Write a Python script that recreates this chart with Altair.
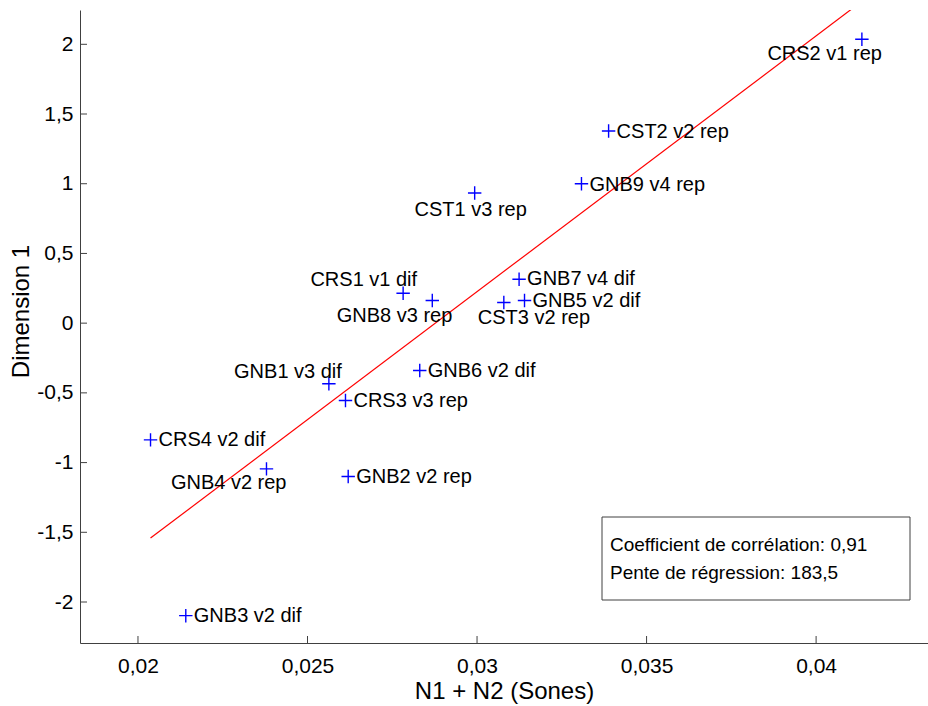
import altair as alt
import pandas as pd

# Stimuli: loudness (N1 + N2, sones) against perceptual dimension 1
names = [
    "CRS2 v1 rep", "CST2 v2 rep", "GNB9 v4 rep", "CST1 v3 rep", "GNB7 v4 dif",
    "CRS1 v1 dif", "GNB8 v3 rep", "CST3 v2 rep", "GNB5 v2 dif", "GNB6 v2 dif",
    "GNB1 v3 dif", "CRS3 v3 rep", "CRS4 v2 dif", "GNB4 v2 rep", "GNB2 v2 rep",
    "GNB3 v2 dif",
]
loudness = [
    0.04135, 0.03388, 0.03308, 0.02993, 0.03124,
    0.02782, 0.02868, 0.03079, 0.03140, 0.02831,
    0.02563, 0.02612, 0.02037, 0.02379, 0.02620,
    0.02141,
]
dimension1 = [
    2.036, 1.378, 1.000, 0.934, 0.315,
    0.215, 0.162, 0.148, 0.162, -0.340,
    -0.435, -0.555, -0.837, -1.045, -1.100,
    -2.098,
]

correlation = 0.91
slope = 183.5

x_ticks = [0.02, 0.025, 0.03, 0.035, 0.04]
y_ticks = [-2, -1.5, -1, -0.5, 0, 0.5, 1, 1.5, 2]

# label placement: (align, dx, dy) in pixels around each marker
label_style = {
    "CRS2 v1 rep": ("right", 20, 15),
    "CST2 v2 rep": ("left", 8, 1),
    "GNB9 v4 rep": ("left", 8, 1),
    "CST1 v3 rep": ("center", -4, 17),
    "GNB7 v4 dif": ("left", 8, 0),
    "CRS1 v1 dif": ("right", 14, -13),
    "GNB8 v3 rep": ("right", 20, 15),
    "CST3 v2 rep": ("left", -26, 15),
    "GNB5 v2 dif": ("left", 8, 0),
    "GNB6 v2 dif": ("left", 8, 0),
    "GNB1 v3 dif": ("right", 13, -12),
    "CRS3 v3 rep": ("left", 8, 0),
    "CRS4 v2 dif": ("left", 8, 0),
    "GNB4 v2 rep": ("right", 20, 14),
    "GNB2 v2 rep": ("left", 8, 0),
    "GNB3 v2 dif": ("left", 8, 0),
}

FONT = "Liberation Sans"
W, H = 848, 633
X_DOM = [0.01829, 0.0433]
Y_DOM = [-2.294, 2.246]
AXIS_GREY = "#404040"

df = pd.DataFrame({"name": names, "x": loudness, "y": dimension1})

# least-squares line passes through the centroid
mean_x = df["x"].mean()
mean_y = df["y"].mean()
intercept = mean_y - slope * mean_x
x_lo, x_hi = df["x"].min(), df["x"].max()
fit = pd.DataFrame({"x": [x_lo, x_hi], "y": [intercept + slope * x_lo, intercept + slope * x_hi]})

comma = "replace(toString(datum.value), '.', ',')"

xscale = alt.Scale(domain=X_DOM, nice=False, zero=False)
yscale = alt.Scale(domain=Y_DOM, nice=False, zero=False)

x_axis = alt.X(
    "x:Q", scale=xscale,
    axis=alt.Axis(
        title="N1 + N2 (Sones)", values=x_ticks, labelExpr=comma, grid=False,
        tickSize=0, labelPadding=12, labelFontSize=21, labelFont=FONT, labelColor="black",
        titleFont=FONT, titleFontSize=24, titleFontWeight="normal", titleColor="black",
        titlePadding=3, domainColor=AXIS_GREY, labelFlush=False,
    ),
)
y_axis = alt.Y(
    "y:Q", scale=yscale,
    axis=alt.Axis(
        title="Dimension 1", values=y_ticks, labelExpr=comma, grid=False,
        tickSize=0, labelPadding=7, labelFontSize=21, labelFont=FONT, labelColor="black",
        titleFont=FONT, titleFontSize=24, titleFontWeight="normal", titleColor="black",
        titleAngle=270, titleAlign="center", titleBaseline="middle",
        titleX=-59, titleY=301, domainColor=AXIS_GREY, labelFlush=False,
    ),
)

cross = "M-1,0L1,0M0,-1L0,1"

points = alt.Chart(df).mark_point(
    shape=cross, size=180, filled=False, color="#0000ff", strokeWidth=1.4, opacity=1
).encode(x=x_axis, y=y_axis)

line = alt.Chart(fit).mark_line(color="#ff0000", strokeWidth=1.2, clip=True).encode(
    x=x_axis, y=y_axis
)

label_layers = []
for nm in names:
    align, dx, dy = label_style[nm]
    label_layers.append(
        alt.Chart(df).transform_filter(alt.datum.name == nm).mark_text(
            align=align, baseline="middle", dx=dx, dy=dy,
            font=FONT, fontSize=20, color="black",
        ).encode(x=x_axis, y=y_axis, text="name:N")
    )

# inward-pointing tick marks
xt = pd.DataFrame({"x": x_ticks})
yt = pd.DataFrame({"y": y_ticks})
x_tick_marks = alt.Chart(xt).mark_rule(color=AXIS_GREY, strokeWidth=1).encode(
    x=x_axis, y=alt.value(H), y2=alt.value(H - 7)
)
y_tick_marks = alt.Chart(yt).mark_rule(color=AXIS_GREY, strokeWidth=1).encode(
    y=y_axis, x=alt.value(0), x2=alt.value(7)
)

# statistics box
box = alt.Chart(pd.DataFrame({"k": [0]})).mark_rect(
    fill="white", stroke=AXIS_GREY, strokeWidth=1
).encode(x=alt.value(522), x2=alt.value(830), y=alt.value(507), y2=alt.value(590))

stats_text = [
    "Coefficient de corrélation: " + f"{correlation:.2f}".replace(".", ","),
    "Pente de régression: " + f"{slope:.1f}".replace(".", ","),
]
stats_rows = [535, 563]
stats_layers = [
    alt.Chart(pd.DataFrame({"text": [t]})).mark_text(
        align="left", baseline="middle", font=FONT, fontSize=19, color="black"
    ).encode(x=alt.value(530), y=alt.value(r), text="text:N")
    for t, r in zip(stats_text, stats_rows)
]

chart = alt.layer(
    points, line, *label_layers, x_tick_marks, y_tick_marks, box, *stats_layers
).properties(
    width=W, height=H,
    autosize=alt.AutoSizeParams(type="none"),
    padding={"left": 80, "top": 10, "right": 0, "bottom": 63},
    background="white",
).configure_view(stroke=None)

chart.save("out.html", embed_options={"renderer": "svg", "actions": False})
